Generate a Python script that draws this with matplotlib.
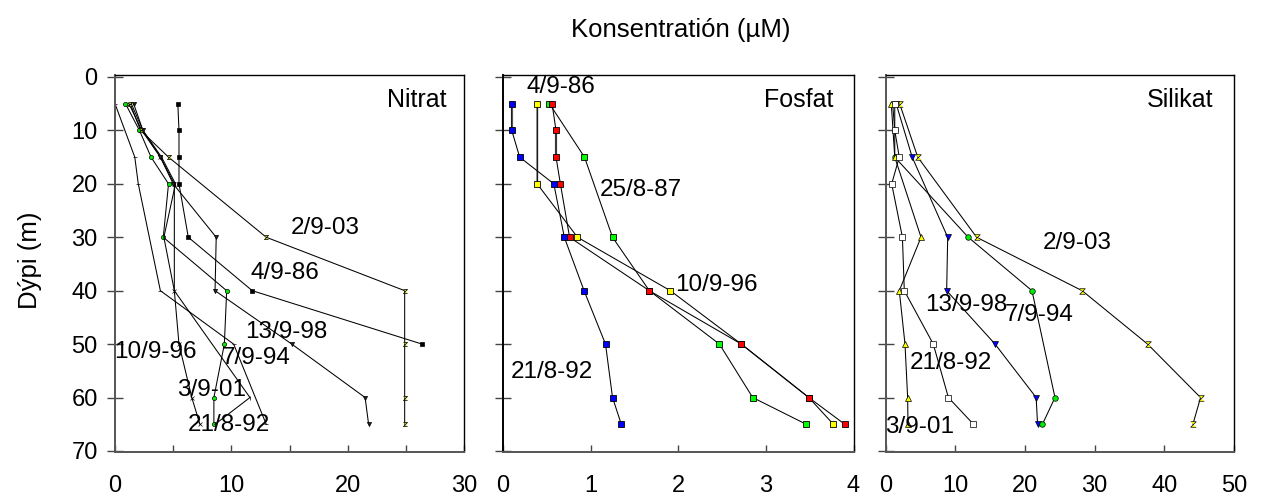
import matplotlib
matplotlib.use("Agg")
import matplotlib.pyplot as plt
from matplotlib.ticker import FixedLocator

plt.rcParams['font.family'] = ['Liberation Sans', 'DejaVu Sans']

# ---------------- data ----------------
# Nitrat (µM)
nit_1096_d = [5, 15, 20, 40, 50, 65]
nit_1096_v = [0.0, 1.7, 2.0, 3.9, 10.2, 13.0]
nit_794_d = [5, 10, 15, 20, 30, 40, 50, 60, 65]
nit_794_v = [0.9, 2.1, 3.1, 4.6, 4.15, 9.6, 9.4, 8.5, 8.5]
nit_901_d = [5, 10, 15, 20, 40, 50, 60, 65]
nit_901_v = [1.2, 2.3, 3.9, 5.1, 5.1, 5.5, 6.6, 7.3]
nit_892_d = [5, 10, 15, 20, 30, 40, 60, 65]
nit_892_v = [1.4, 2.4, 4.0, 5.2, 4.2, 5.1, 11.6, 8.6]
nit_998_d = [5, 10, 15, 20, 30, 40, 50, 60, 65]
nit_998_v = [1.6, 2.4, 3.9, 5.0, 8.7, 8.6, 15.2, 21.5, 21.8]
nit_203_d = [5, 10, 15, 30, 40, 50, 60, 65]
nit_203_v = [1.3, 2.2, 4.6, 13.0, 24.9, 24.9, 24.9, 24.9]
nit_986_d = [5, 10, 15, 20, 30, 40, 50]
nit_986_v = [5.4, 5.5, 5.5, 5.5, 6.3, 11.8, 26.4]

# Fosfat (µM)
fos_892_d = [5, 10, 15, 20, 30, 40, 50, 60, 65]
fos_892_v = [0.10, 0.10, 0.19, 0.58, 0.70, 0.925, 1.17, 1.25, 1.35]
fos_red_d = [5, 10, 15, 20, 30, 40, 50, 60, 65]
fos_red_v = [0.56, 0.605, 0.605, 0.655, 0.76, 1.67, 2.72, 3.49, 3.90]
fos_1096_d = [5, 20, 30, 40, 50, 60, 65]
fos_1096_v = [0.39, 0.39, 0.85, 1.91, 2.72, 3.49, 3.77]
fos_887_d = [5, 15, 30, 40, 50, 60, 65]
fos_887_v = [0.53, 0.93, 1.25, 1.67, 2.47, 2.85, 3.46]

# Silikat (µM)
sil_203_d = [5, 15, 30, 40, 50, 60, 65]
sil_203_v = [2.0, 4.6, 13.05, 28.2, 37.6, 45.2, 44.1]
sil_998_d = [5, 15, 30, 40, 50, 60, 65]
sil_998_v = [1.5, 3.8, 8.9, 8.75, 15.7, 21.6, 21.8]
sil_794_d = [5, 10, 15, 30, 40, 60, 65]
sil_794_v = [1.0, 1.3, 1.3, 11.85, 21.0, 24.3, 22.5]
sil_901_d = [5, 15, 30, 40, 50, 60, 65]
sil_901_v = [0.8, 1.3, 5.07, 1.95, 2.77, 3.15, 3.2]
sil_892_d = [5, 10, 15, 20, 30, 40, 50, 60, 65]
sil_892_v = [1.3, 1.3, 1.95, 0.86, 2.4, 2.67, 6.83, 9.0, 12.6]

depth_ticks = [0, 10, 20, 30, 40, 50, 60, 70]
nit_ticks = [0, 10, 20, 30]
fos_ticks = [0, 1, 2, 3, 4]
sil_ticks = [0, 10, 20, 30, 40, 50]

nit_labels = [("2/9-03", 18.1, 28.3), ("4/9-86", 14.6, 36.7), ("13/9-98", 14.7, 47.7),
              ("10/9-96", 3.5, 51.5), ("7/9-94", 12.1, 52.6), ("3/9-01", 8.3, 58.6),
              ("21/8-92", 9.8, 65.1)]
fos_labels = [("4/9-86", 0.66, 1.9), ("25/8-87", 1.57, 21.1), ("10/9-96", 2.43, 38.9),
              ("21/8-92", 0.56, 55.2)]
sil_labels = [("2/9-03", 27.5, 31.1), ("13/9-98", 11.5, 42.7), ("7/9-94", 22.0, 44.5),
              ("21/8-92", 9.4, 53.5), ("3/9-01", 4.9, 65.5)]

# ---------------- figure ----------------
W, H = 1261, 499
fig = plt.figure(figsize=(W / 100, H / 100), dpi=100)

def px_axes(l, r, t, b):
    return fig.add_axes([l / W, 1 - b / H, (r - l) / W, (b - t) / H])

ax1 = px_axes(115, 464, 75, 451.5)
ax2 = px_axes(503, 853.5, 75, 451.5)
ax3 = px_axes(885.7, 1234, 75, 451.5)

hourglass = [(-1, 1), (1, 1), (-1, -1), (1, -1)]
lw = 0.75
fs_lab = 17.5

def style(ax, xticks, xlim, show_ylabels):
    ax.set_ylim(70.1, -0.37)
    ax.set_xlim(*xlim)
    ax.set_yticks(depth_ticks)
    ax.set_xticks(xticks)
    ax.tick_params(axis='y', direction='inout', length=11, width=1.0,
                   color='#444444', labelsize=17, pad=7)
    ax.tick_params(axis='x', direction='in', length=5, width=1.0,
                   color='#444444', labelsize=17, pad=17)
    if not show_ylabels:
        ax.set_yticklabels([])
    for s in ('top', 'right'):
        ax.spines[s].set_linewidth(1.0)
        ax.spines[s].set_color('black')
    for s in ('left', 'bottom'):
        ax.spines[s].set_linewidth(1.4)
        ax.spines[s].set_color('#555555')

style(ax1, nit_ticks, (0, 30), True)
style(ax2, fos_ticks, (0, 4), False)
style(ax3, sil_ticks, (0, 50), False)
ax2.spines['left'].set_color('black')
ax1.xaxis.set_minor_locator(FixedLocator([5, 15, 25]))
ax1.tick_params(axis='x', which='minor', direction='in', length=5, width=1.0, color='#444444')

# Nitrat
k = dict(color='black', lw=lw, ms=3, mec='black', mew=0.5)
ax1.plot(nit_1096_v, nit_1096_d, marker='_', **k)
ax1.plot(nit_794_v, nit_794_d, marker='o', mfc='#00ee00', **k)
ax1.plot(nit_901_v, nit_901_d, marker='x', **k)
ax1.plot(nit_892_v, nit_892_d, marker='|', **k)
ax1.plot(nit_998_v, nit_998_d, marker='v', mfc='#222222', **k)
ax1.plot(nit_203_v, nit_203_d, marker=hourglass, mfc='#cccc00', **k)
ax1.plot(nit_986_v, nit_986_d, marker='s', mfc='black', **k)

# Fosfat: grey thicker segments at the top of some profiles
ax2.plot(fos_892_v[:2], fos_892_d[:2], color='#777777', lw=1.6)
ax2.plot(fos_red_v[1:3], fos_red_d[1:3], color='#777777', lw=1.6)
ax2.plot(fos_1096_v[:2], fos_1096_d[:2], color='#555555', lw=1.0)
kf = dict(color='black', lw=lw, ms=4.5, mec='black', mew=0.6, marker='s')
ax2.plot(fos_1096_v, fos_1096_d, mfc='#ffff00', **kf)
ax2.plot(fos_887_v, fos_887_d, mfc='#00ff00', **kf)
ax2.plot(fos_red_v, fos_red_d, mfc='#ff0000', **kf)
ax2.plot(fos_892_v, fos_892_d, mfc='#0000ff', **kf)

# Silikat
ks = dict(color='black', lw=lw, ms=4, mec='black', mew=0.5)
ax3.plot(sil_203_v, sil_203_d, marker=hourglass, mfc='#ffff00', **ks)
ax3.plot(sil_998_v, sil_998_d, marker='v', mfc='#0000ff', **ks)
ax3.plot(sil_794_v, sil_794_d, marker='o', mfc='#00ee00', **ks)
ax3.plot(sil_901_v, sil_901_d, marker='^', mfc='#ffff00', **ks)
ax3.plot(sil_892_v, sil_892_d, marker='s', mfc='white', **ks)

for ax, labs in ((ax1, nit_labels), (ax2, fos_labels), (ax3, sil_labels)):
    for t, x, y in labs:
        ax.text(x, y, t, fontsize=fs_lab, ha='center', va='center')

ax1.text(28.5, 4.3, "Nitrat", fontsize=18, ha='right', va='center')
ax2.text(3.77, 4.3, "Fosfat", fontsize=18, ha='right', va='center')
ax3.text(47.0, 4.3, "Silikat", fontsize=18, ha='right', va='center')

fig.text(681 / W, 1 - 30 / H, "Konsentratión (µM)", fontsize=18.5, ha='center', va='center')
fig.text(30 / W, 1 - 260 / H, "Dýpi (m)", fontsize=18.5, ha='center', va='center', rotation=90)

fig.savefig("out.png", dpi=100)
